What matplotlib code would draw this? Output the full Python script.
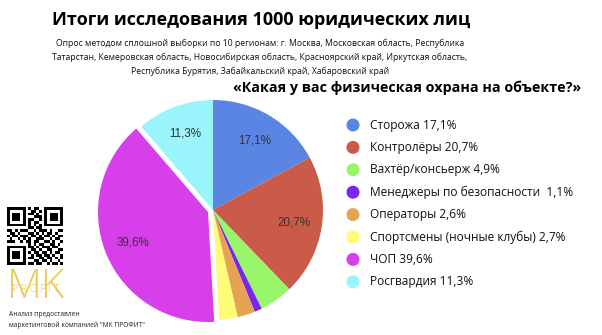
import matplotlib
matplotlib.use("Agg")
import matplotlib.pyplot as plt
import numpy as np
from matplotlib.patches import Circle

plt.rcParams['font.family'] = ['Open Sans', 'DejaVu Sans']

# Survey results
categories = ["Сторожа", "Контролёры", "Вахтёр/консьерж",
              "Менеджеры по безопасности ", "Операторы",
              "Спортсмены (ночные клубы)", "ЧОП", "Росгвардия"]
shares = [17.1, 20.7, 4.9, 1.1, 2.6, 2.7, 39.6, 11.3]
slice_labels = ["17,1%", "20,7%", "", "", "", "", "39,6%", "11,3%"]
legend_values = ["17,1%", "20,7%", "4,9%", "1,1%", "2,6%", "2,7%", "39,6%", "11,3%"]
colors = ["#5B85E3", "#C95B48", "#99F56A", "#7A25F0",
          "#E6A352", "#FFFC78", "#D63FE9", "#99F4FB"]
explode = [0, 0, 0, 0, 0, 0, 0.045, 0]

title = "Итоги исследования 1000 юридических лиц"
subtitle_lines = [
    "Опрос методом сплошной выборки по 10 регионам: г. Москва, Московская область, Республика",
    "Татарстан, Кемеровская область, Новосибирская область, Красноярский край, Иркутская область,",
    "Республика Бурятия, Забайкальский край, Хабаровский край",
]
question = "«Какая у вас физическая охрана на объекте?»"
credit_lines = ["Анализ предоставлен", "маркетинговой компанией \"МК ПРОФИТ\""]

# QR code modules (21x21)
F = ["1111111", "1000001", "1011101", "1011101", "1011101", "1000001", "1111111"]
top_mid = ["10110", "01101", "11010", "00111", "11001", "10110", "10101"]
bot_mid = ["1101011101100", "0110100110011", "1011011010110", "0101101101001",
           "1100110110101", "0011011010010", "1101100101101"]
qr_rows = [F[i] + "0" + top_mid[i] + "0" + F[i] for i in range(7)]
qr_rows.append("00000000" + "11011" + "00000000")
qr_rows += ["110101110010111010011", "011010001101010110100",
            "101101110110101101011", "010010101001110010110",
            "111001011011001101001"]
qr_rows.append("00000000" + "1010110011010")
qr_rows += [F[i] + "0" + bot_mid[i] for i in range(7)]
qr = np.array([[int(c) for c in row] for row in qr_rows])

W, H = 602, 335
fig = plt.figure(figsize=(W / 100, H / 100), dpi=100)
fig.patch.set_facecolor("white")

# Overlay in pixel coordinates
ov = fig.add_axes([0, 0, 1, 1])
ov.set_xlim(0, W)
ov.set_ylim(H, 0)
ov.axis("off")

ov.text(261, 20, title, ha="center", va="center", fontsize=13,
        fontweight="bold", color="black")
for i, line in enumerate(subtitle_lines):
    ov.text(260, 43 + i * 14, line, ha="center", va="center",
            fontsize=6.2, color="#111111")
ov.text(407, 88, question, ha="center", va="center", fontsize=10.3,
        fontweight="bold", color="black")

# Legend
y0, dy = 125, 22.4
for i, (cat, val, col) in enumerate(zip(categories, legend_values, colors)):
    y = y0 + i * dy
    ov.add_patch(Circle((353, y), 6.5, color=col, lw=0))
    ov.text(370, y, f"{cat} {val}", ha="left", va="center",
            fontsize=8.6, color="#111111")

# QR code
ov.imshow(1 - qr, cmap="gray", interpolation="nearest",
          extent=(7, 63, 265, 207), vmin=0, vmax=1, aspect="auto")

# Logo
gold = "#E5C64A"
ov.text(36, 288, "MK", ha="center", va="center", fontsize=29,
        color=gold, fontweight="light", alpha=0.9)
ov.text(36, 290, "P R O F I T", ha="center", va="center", fontsize=7.5,
        color=gold, fontweight="light")

for i, line in enumerate(credit_lines):
    ov.text(9, 314 + i * 11, line, ha="left", va="center",
            fontsize=4.8, color="#222222")

ov.set_xlim(0, W)
ov.set_ylim(H, 0)

# Pie chart
cx, cy, half = 213, 210, 120
ax = fig.add_axes([(cx - half) / W, (H - cy - half) / H, 2 * half / W, 2 * half / H])
radius = 110 / half
wedges, _ = ax.pie(shares, colors=colors, explode=explode, startangle=90,
                   counterclock=False, radius=radius,
                   wedgeprops=dict(linewidth=0))
ax.set_xlim(-1, 1)
ax.set_ylim(-1, 1)
ax.set_aspect("equal")
ax.axis("off")

total = sum(shares)
start = 90.0
for share, lab, ex in zip(shares, slice_labels, explode):
    ang = start - share / total * 360 / 2
    start -= share / total * 360
    if not lab:
        continue
    d = radius * (0.74 + ex)
    x = d * np.cos(np.radians(ang))
    y = d * np.sin(np.radians(ang))
    ax.text(x, y, lab, ha="center", va="center", fontsize=8.4,
            family="Liberation Sans", color="#333333")

fig.savefig("out.png", dpi=100, facecolor="white")
